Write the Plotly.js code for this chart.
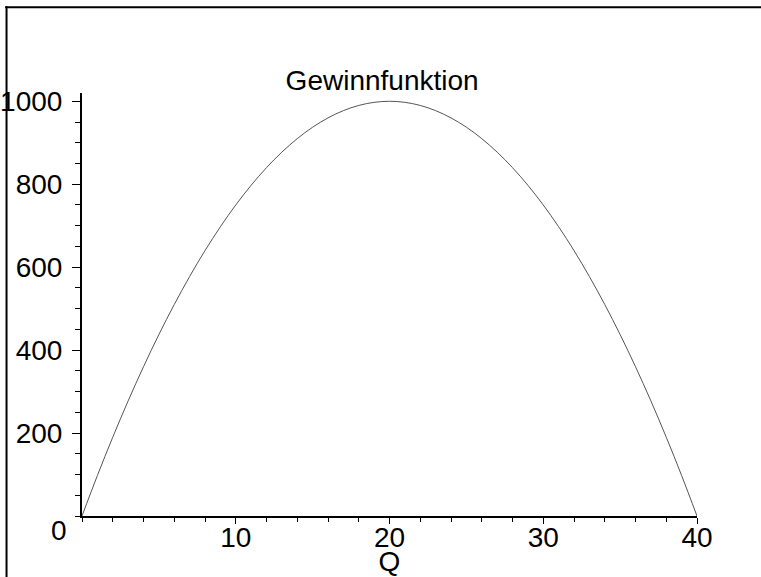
<!DOCTYPE html>
<html>
<head>
<meta charset="utf-8">
<script src="https://cdn.plot.ly/plotly-3.0.1.min.js"></script>
<style>
  html, body { margin: 0; padding: 0; background: #fff; }
  #plot { width: 761px; height: 577px; }
</style>
</head>
<body>
<div id="plot"></div>
<script>
// Gewinn G(Q) über der Menge Q
var quantity = [0, 1, 2, 3, 4, 5, 6, 7, 8, 9, 10, 11, 12, 13, 14, 15, 16, 17, 18, 19, 20,
                21, 22, 23, 24, 25, 26, 27, 28, 29, 30, 31, 32, 33, 34, 35, 36, 37, 38, 39, 40];
var profit = [0, 97.5, 190, 277.5, 360, 437.5, 510, 577.5, 640, 697.5, 750, 797.5, 840, 877.5,
              910, 937.5, 960, 977.5, 990, 997.5, 1000, 997.5, 990, 977.5, 960, 937.5, 910,
              877.5, 840, 797.5, 750, 697.5, 640, 577.5, 510, 437.5, 360, 277.5, 190, 97.5, 0];
var xTicks = [10, 20, 30, 40];
var yTicks = [200, 400, 600, 800, 1000];

var FONT = 'Liberation Sans, Arial, sans-serif';

var trace = {
  x: quantity,
  y: profit,
  type: 'scatter',
  mode: 'lines',
  line: { color: '#555555', width: 1, shape: 'spline' },
  hoverinfo: 'skip'
};

var layout = {
  width: 761,
  height: 577,
  margin: { l: 82, r: 64, t: 93, b: 61 },
  paper_bgcolor: '#ffffff',
  plot_bgcolor: '#ffffff',
  showlegend: false,
  font: { family: FONT, color: '#000000', size: 28 },
  title: {
    text: 'Gewinnfunktion',
    font: { family: FONT, size: 28, color: '#000000' },
    x: 0.488, xref: 'paper', xanchor: 'center',
    y: 0.861, yref: 'container', yanchor: 'middle'
  },
  xaxis: {
    range: [0, 40],
    showgrid: false,
    zeroline: false,
    showline: true,
    linecolor: '#000000',
    linewidth: 2,
    ticks: 'outside',
    ticklen: 6,
    tickwidth: 1,
    tickcolor: '#000000',
    tickmode: 'array',
    tickvals: xTicks,
    ticktext: xTicks.map(String),
    tickfont: { family: FONT, size: 28, color: '#000000' },
    ticklabelstandoff: -11,
    minor: { dtick: 2, ticklen: 4, tickwidth: 1, tickcolor: '#000000', ticks: 'outside', showgrid: false },
    title: { text: 'Q', font: { family: FONT, size: 28, color: '#000000' }, standoff: 0 },
    automargin: false,
    fixedrange: true
  },
  yaxis: {
    range: [0, 1020],
    showgrid: false,
    zeroline: false,
    showline: true,
    linecolor: '#000000',
    linewidth: 2,
    ticks: 'outside',
    ticklen: 8,
    tickwidth: 1,
    tickcolor: '#000000',
    tickmode: 'array',
    tickvals: yTicks,
    ticktext: yTicks.map(String),
    tickfont: { family: FONT, size: 28, color: '#000000' },
    ticklabelstandoff: 4,
    minor: { dtick: 50, ticklen: 5, tickwidth: 1, tickcolor: '#000000', ticks: 'outside', showgrid: false },
    automargin: false,
    fixedrange: true
  },
  annotations: [{
    // gemeinsame Beschriftung des Ursprungs
    text: '0',
    x: 0, y: 0, xref: 'x', yref: 'y',
    xanchor: 'right', yanchor: 'top',
    xshift: -13, yshift: 3,
    showarrow: false,
    font: { family: FONT, size: 28, color: '#000000' }
  }],
  shapes: [
    // Rahmen oben und links
    { type: 'line', xref: 'paper', yref: 'paper', x0: -0.125, x1: 1.2, y0: 1.2027, y1: 1.2027,
      line: { color: '#000000', width: 2 } },
    { type: 'line', xref: 'paper', yref: 'paper', x0: -0.1227, x1: -0.1227, y0: 1.205, y1: -0.15,
      line: { color: '#000000', width: 2 } }
  ]
};

Plotly.newPlot('plot', [trace], layout, { staticPlot: true, displayModeBar: false });
</script>
</body>
</html>
